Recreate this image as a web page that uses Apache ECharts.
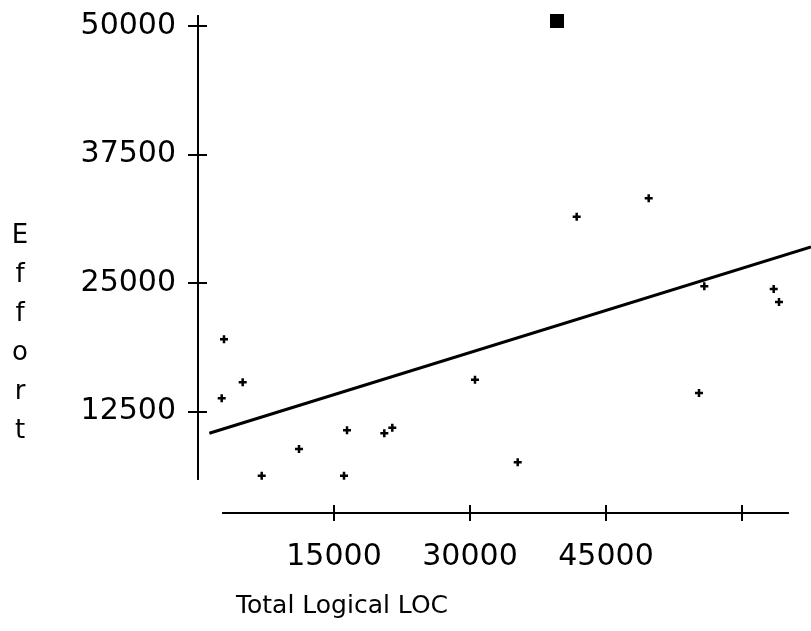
<!DOCTYPE html>
<html>
<head>
<meta charset="utf-8">
<script src="https://cdn.jsdelivr.net/npm/echarts@6/dist/echarts.min.js"></script>
<style>
html,body{margin:0;padding:0;background:#fff;}
#chart{width:811px;height:631px;}
</style>
</head>
<body>
<div id="chart"></div>
<script>
// Tick positions / labels
const xTickValues = [15000, 30000, 45000, 60000];
const xLabelValues = [15000, 30000, 45000];
const yTickValues = [12500, 25000, 37500, 50000];

// Data: [Total Logical LOC, Effort]
const effortPoints = [
  [2868, 19523], [4930, 15340], [2614, 13784], [7026, 6255], [11140, 8852],
  [16103, 6255], [16434, 10671], [20548, 10379], [21430, 10924], [30551, 15593],
  [35261, 7558], [41768, 31449], [49710, 33239], [55842, 24679], [55257, 14300],
  [63496, 24416], [64081, 23152]
];
const outlierPoint = [[39596, 50486]];
const fitLine = [[1250, 10380], [67610, 28500]];

const xName = 'Total Logical LOC';
const yName = 'Effort';

const FONT = 'DejaVu Sans';
const plus = 'path://M2.75,0H5.25V2.75H8V5.25H5.25V8H2.75V5.25H0V2.75H2.75Z';

const chart = echarts.init(document.getElementById('chart'), null, {renderer: 'canvas'});

const axisLineStyle = {show: true, lineStyle: {color: '#000', width: 2}};
const tickStyle = {color: '#000', width: 2};
const plain = v => String(v);

const option = {
  animation: false,
  backgroundColor: '#fff',
  grid: [
    // plot area: y axis sits on its left edge, x = 0 there
    {left: 198, right: 0, top: 16, bottom: 152, containLabel: false, outerBoundsMode: 'none'},
    // area whose bottom axis is the visible x axis (same scale, shorter line)
    {left: 223, right: 23, top: 16, bottom: 152, containLabel: false, outerBoundsMode: 'none'}
  ],
  xAxis: [
    {type: 'value', gridIndex: 0, min: 0, max: 67610, show: false},
    {
      type: 'value', gridIndex: 1, position: 'bottom', offset: 34, min: 2757, max: 65074,
      axisLine: axisLineStyle,
      axisTick: {show: true, inside: false, length: 8, lineStyle: tickStyle, customValues: xTickValues},
      axisLabel: {show: true, margin: 29, color: '#000', fontFamily: FONT, fontSize: 30,
        customValues: xLabelValues, formatter: plain},
      splitLine: {show: false}
    },
    {
      type: 'value', gridIndex: 1, position: 'bottom', offset: 34, min: 2757, max: 65074,
      axisLine: axisLineStyle,
      axisTick: {show: true, inside: true, length: 8, lineStyle: tickStyle, customValues: xTickValues},
      axisLabel: {show: false},
      splitLine: {show: false}
    }
  ],
  yAxis: [
    {
      type: 'value', gridIndex: 0, position: 'left', min: 5934, max: 50973,
      axisLine: axisLineStyle,
      axisTick: {show: true, inside: false, length: 10, lineStyle: tickStyle, customValues: yTickValues},
      axisLabel: {show: true, margin: 22, color: '#000', fontFamily: FONT, fontSize: 30,
        customValues: yTickValues, formatter: plain},
      splitLine: {show: false}
    },
    {
      type: 'value', gridIndex: 0, position: 'left', min: 5934, max: 50973,
      axisLine: axisLineStyle,
      axisTick: {show: true, inside: true, length: 9, lineStyle: tickStyle, customValues: yTickValues},
      axisLabel: {show: false},
      splitLine: {show: false}
    },
    {type: 'value', gridIndex: 1, min: 5934, max: 50973, show: false}
  ],
  graphic: [
    {
      type: 'text', silent: true,
      style: {text: yName.split('').join('\n'), x: 20, y: 334, font: '26px "' + FONT + '"',
        align: 'center', verticalAlign: 'middle', lineHeight: 39, fill: '#000'}
    },
    {
      type: 'text', silent: true,
      style: {text: xName, x: 342, y: 606, font: '25px "' + FONT + '"',
        align: 'center', verticalAlign: 'middle', fill: '#000'}
    }
  ],
  series: [
    {
      type: 'line', data: fitLine, xAxisIndex: 0, yAxisIndex: 0, clip: false,
      symbol: 'none', lineStyle: {color: '#000', width: 3}, silent: true
    },
    {
      type: 'scatter', data: effortPoints, xAxisIndex: 0, yAxisIndex: 0, clip: false,
      symbol: plus, symbolSize: 8, itemStyle: {color: '#000', opacity: 1}, silent: true
    },
    {
      type: 'scatter', data: outlierPoint, xAxisIndex: 0, yAxisIndex: 0, clip: false,
      symbol: 'rect', symbolSize: 14, itemStyle: {color: '#000', opacity: 1}, silent: true
    }
  ]
};
chart.setOption(option);
</script>
</body>
</html>
